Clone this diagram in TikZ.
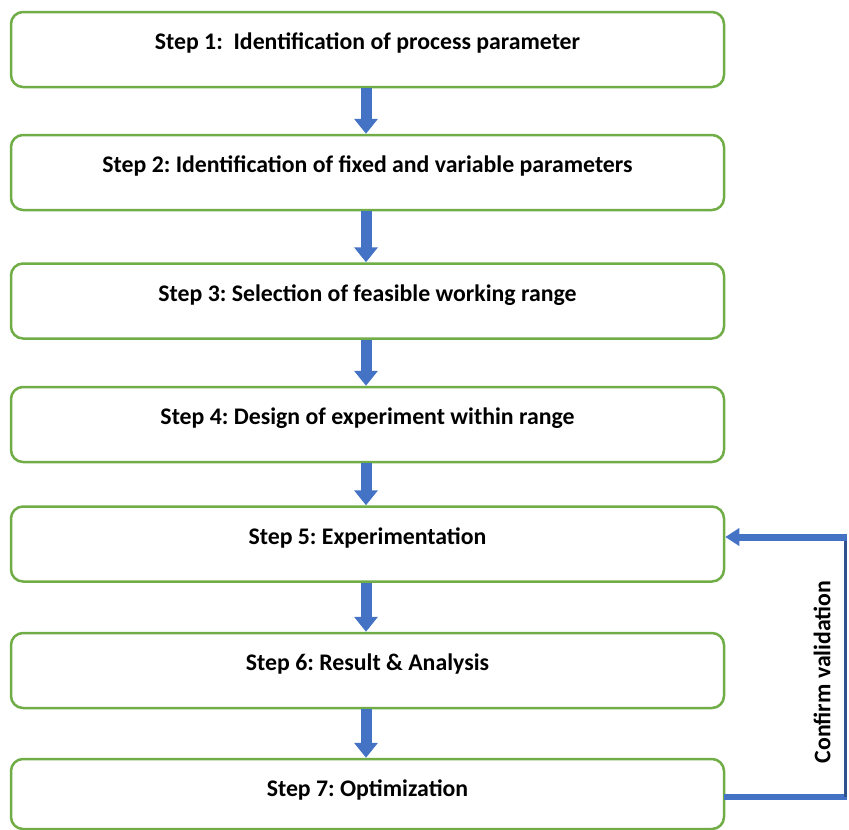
\documentclass[tikz,border=0pt]{standalone}
\usepackage{fontspec}
\setmainfont{Carlito}
\usepackage{tikz}
\usetikzlibrary{arrows.meta,positioning}

\definecolor{boxgreen}{RGB}{112,173,71}
\definecolor{flowblue}{RGB}{68,114,196}
\definecolor{flowdark}{RGB}{47,82,143}

\tikzset{
  stepbox/.style={draw=boxgreen,line width=2.5pt,rounded corners=12pt,fill=white,
    minimum width=713pt,inner sep=0pt,text height=37.5pt,text depth=37.5pt,
    font=\fontsize{23.8}{26}\selectfont\bfseries},
  flow/.style={flowblue,line width=11pt,-{Triangle[width=23pt,length=15pt]}},
}

\begin{document}
\frenchspacing
\begin{tikzpicture}[x=1pt,y=-1pt]
  \useasboundingbox (0,0) rectangle (849,830);
  \node[stepbox] (s1) at (367.5,49.5) {Step 1:\ \ Identification of process parameter};
  \node[stepbox] (s2) at (367.5,172.5) {Step 2: Identification of fixed and variable parameters};
  \node[stepbox] (s3) at (367.5,301) {Step 3: Selection of feasible working range};
  \node[stepbox] (s4) at (367.5,424.5) {Step 4: Design of experiment within range};
  \node[stepbox] (s5) at (367.5,544) {Step 5: Experimentation};
  \node[stepbox] (s6) at (367.5,670.5) {Step 6: Result \& Analysis};
  \node[stepbox,text depth=32.5pt] (s7) at (367.5,794) {Step 7: Optimization};

  \foreach \a/\b in {s1/s2,s2/s3,s3/s4,s4/s5,s5/s6,s6/s7}
    \draw[flow] ([xshift=-1.5pt]\a.south) -- ([xshift=-1.5pt]\b.north);

  % feedback loop
  \coordinate (fbbot) at (845.5,797);
  \coordinate (fbtop) at (845.5,537);
  \draw[flowblue,line width=6pt] ([xshift=-1pt,yshift=-3pt]s7.east) -- ([xshift=1.5pt]fbbot);
  \draw[flowdark,line width=3pt] (fbbot) -- (fbtop);
  \draw[flowblue,line width=7pt,-{Triangle[width=17pt,length=14pt]}]
    ([xshift=1.5pt]fbtop) -- ([yshift=7pt]s5.east);
  \node[rotate=90,font=\fontsize{23.8}{26}\selectfont\bfseries] (conf) at (822,672) {Confirm validation};
\end{tikzpicture}
\end{document}
